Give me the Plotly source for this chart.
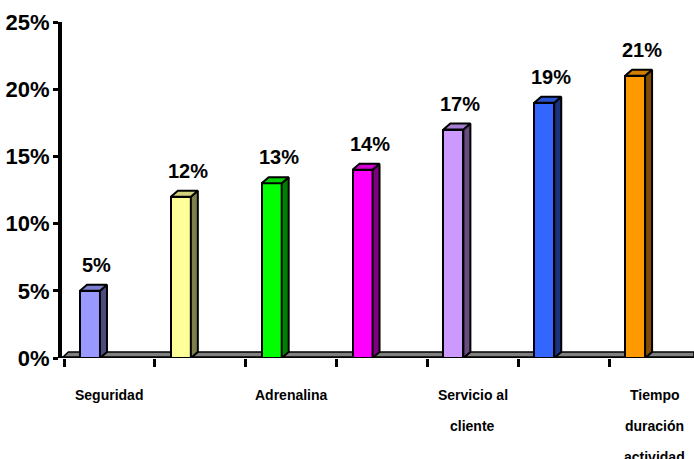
import textwrap
import plotly.graph_objects as go

# Survey results: share of respondents per attribute
categorias = ["Seguridad", "", "Adrenalina", "", "Servicio al cliente", "", "Tiempo duración actividad"]
valores = [0.05, 0.12, 0.13, 0.14, 0.17, 0.19, 0.21]
colores = ["#9999FF", "#FFFF99", "#00FF00", "#FF00FF", "#CC99FF", "#3366FF", "#FF9900"]
ticks_y = [0, 0.05, 0.10, 0.15, 0.20, 0.25]

W, H = 694, 459
ML, MR, MT, MB = 62, 0, 22, 101
PX_PER_CAT = 90.85
X0_PX = 64  # pixel of first category boundary
x_range = [(ML - X0_PX) / PX_PER_CAT, (W - MR - X0_PX) / PX_PER_CAT]
y_range = [0, 0.25]
px_per_y = (H - MT - MB) / (y_range[1] - y_range[0])

BAR_OFF = 0.286      # bar centre inside its category slot
BAR_W = 0.22         # front face width (category units)
DX = 7 / PX_PER_CAT  # 3-D depth, horizontal
DY = 6 / px_per_y    # 3-D depth, vertical

FONT = "Liberation Sans, Arial, sans-serif"


def shade(hex_color, f):
    h = hex_color.lstrip("#")
    r, g, b = (int(h[i:i + 2], 16) for i in (0, 2, 4))
    return "#%02X%02X%02X" % (int(r * f), int(g * f), int(b * f))


fig = go.Figure()

xs = [i + BAR_OFF for i in range(len(valores))]

# front faces
fig.add_trace(go.Bar(
    x=xs, y=valores, width=BAR_W,
    marker=dict(color=colores, line=dict(color="black", width=2)),
    hoverinfo="skip", showlegend=False,
))

# side and top faces
for x, v, c in zip(xs, valores, colores):
    xl, xr = x - BAR_W / 2, x + BAR_W / 2
    fig.add_trace(go.Scatter(
        x=[xr, xr + DX, xr + DX, xr, xr], y=[0, DY, v + DY, v, 0],
        mode="lines", fill="toself", fillcolor=shade(c, 0.5),
        line=dict(color="black", width=2), hoverinfo="skip", showlegend=False,
    ))
    fig.add_trace(go.Scatter(
        x=[xl, xl + DX, xr + DX, xr, xl], y=[v, v + DY, v + DY, v, v],
        mode="lines", fill="toself", fillcolor=shade(c, 0.82),
        line=dict(color="black", width=2), hoverinfo="skip", showlegend=False,
    ))

# floor slab
fig.add_shape(type="path", xref="paper", yref="y", layer="below",
              path=f"M 0,0 L 0.01,{DY} L 1,{DY} L 1,0 Z",
              fillcolor="#808080", line=dict(color="black", width=1.5))
fig.add_shape(type="line", xref="paper", yref="y", layer="below",
              x0=0, x1=1, y0=0, y1=0, line=dict(color="black", width=3.5))

annotations = []
# value labels
for x, v in zip(xs, valores):
    annotations.append(dict(
        x=x + DX, y=v, xref="x", yref="y", text=f"{round(v * 100)}%",
        showarrow=False, yshift=26, yanchor="middle", xanchor="center",
        font=dict(family=FONT, size=20, color="black", weight="bold"),
    ))
# category labels, wrapped onto widely spaced lines
for i, name in enumerate(categorias):
    for k, line in enumerate(textwrap.wrap(name, width=11)):
        annotations.append(dict(
            x=i + 0.5, y=0, xref="x", yref="paper", text=line,
            showarrow=False, yshift=-37 - 31 * k, yanchor="middle", xanchor="center",
            font=dict(family=FONT, size=14, color="black", weight="bold"),
        ))

fig.update_layout(
    width=W, height=H,
    margin=dict(l=ML, r=MR, t=MT, b=MB, pad=0),
    paper_bgcolor="white", plot_bgcolor="white",
    annotations=annotations,
    bargap=0,
    xaxis=dict(
        range=x_range, showgrid=False, zeroline=False, showline=False,
        tickmode="array", tickvals=list(range(len(valores) + 1)),
        ticks="outside", ticklen=8, tickwidth=3, tickcolor="black",
        showticklabels=False, fixedrange=True,
    ),
    yaxis=dict(
        range=y_range, showgrid=False, zeroline=False,
        showline=True, linewidth=4, linecolor="black",
        tickmode="array", tickvals=ticks_y, tickformat=".0%",
        ticks="outside", ticklen=5, tickwidth=3, tickcolor="black",
        ticklabelstandoff=-1,
        tickfont=dict(family=FONT, size=22, color="black", weight="bold"),
        fixedrange=True,
    ),
)

fig.write_html("out.html")
